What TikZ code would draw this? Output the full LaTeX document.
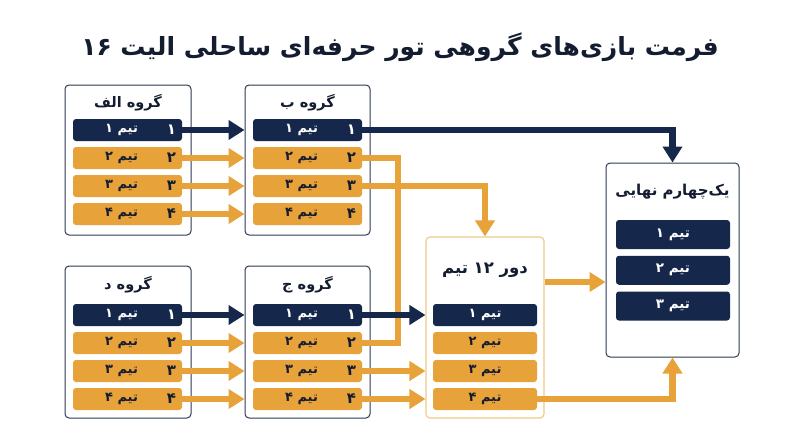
\documentclass[tikz,border=0pt]{standalone}
\usepackage{fontspec}
\usetikzlibrary{arrows.meta,calc}
\TeXXeTstate=1
\newfontfamily\fa[Script=Arabic]{DejaVu Sans}
\newcommand\rl[1]{{\fa\bfseries\beginR #1\endR}}
\definecolor{navy}{HTML}{15284B}
\definecolor{org}{HTML}{E8A23A}
\definecolor{orgline}{HTML}{F0C887}
\definecolor{ink}{HTML}{141C30}
\definecolor{gborder}{HTML}{2E3A52}
\tikzset{
  gbox/.style={draw=gborder, line width=1pt, rounded corners=4pt, fill=white},
  rbox/.style={draw=orgline, line width=1.1pt, rounded corners=4pt, fill=white},
  rowbox/.style={rounded corners=3pt, inner sep=0pt, minimum width=#1, minimum height=22pt},
  rowbox/.default=109pt,
  qrow/.style={fill=navy, rounded corners=3pt, inner sep=0pt, minimum width=114pt, minimum height=29pt},
  gtitle/.style={inner sep=0pt, text=ink, font=\fontsize{14.5}{18}\selectfont},
  lbl/.style={inner sep=0pt, font=\fontsize{13}{15}\selectfont},
  numlbl/.style={inner sep=0pt, font=\fontsize{15}{17}\selectfont},
  conn/.style={line width=6.5pt, -{Triangle[length=16pt,width=19pt]}},
  link/.style={line width=6.5pt},
}
\begin{document}
\begin{tikzpicture}[x=1pt,y=-1pt]
\useasboundingbox (0,0) rectangle (800,447);
\fill[white] (0,0) rectangle (800,447);
% title
\node[inner sep=0pt, text=ink, font=\fontsize{25}{30}\selectfont] (title) at (400,47)
  {\rl{فرمت بازی‌های گروهی تور حرفه‌ای ساحلی الیت \beginL۱۶\endL}};

% group boxes
\node[gbox, minimum width=126pt, minimum height=150pt] (GA) at (128,160) {};
\node[gbox, minimum width=125pt, minimum height=150pt] (GB) at (307.5,160) {};
\node[gbox, minimum width=126pt, minimum height=152pt] (GD) at (128,342) {};
\node[gbox, minimum width=125pt, minimum height=152pt] (GC) at (307.5,342) {};
\node[rbox, minimum width=118pt, minimum height=181pt] (GR) at (485,327.5) {};
\node[gbox, minimum width=133pt, minimum height=194pt] (GQ) at (672.5,260) {};

\node[gtitle] (TA) at (128,103) {\rl{گروه الف}};
\node[gtitle] (TB) at (307.5,103) {\rl{گروه ب}};
\node[gtitle] (TD) at (128,285) {\rl{گروه د}};
\node[gtitle] (TC) at (307.5,285) {\rl{گروه ج}};
\node[gtitle, font=\fontsize{16.5}{20}\selectfont] (TR) at (485,270) {\rl{دور \beginL۱۲\endL{} تیم}};
\node[gtitle, font=\fontsize{15}{18}\selectfont] (TQ) at (672.5,192) {\rl{یک‌چهارم نهایی}};

% group rows
\foreach \g/\x/\y in {A/127.5/130, B/307.5/130, D/127.5/315, C/307.5/315}{
  \foreach \i/\d/\fc/\tc in {1/۱/navy/white, 2/۲/org/ink, 3/۳/org/ink, 4/۴/org/ink}{
    \node[rowbox, fill=\fc] (\g\i) at (\x,\y+28*\i-28) {};
    \node[lbl, text=\tc] (\g\i t) at ($(\g\i.center)+(-6,0)$) {\rl{تیم \d}};
    \node[numlbl, text=\tc, anchor=east] (\g\i n) at ($(\g\i.east)+(-6,0)$) {\rl{\d}};
  }
}
% round-of-12 rows
\foreach \i/\d/\fc/\tc in {1/۱/navy/white, 2/۲/org/ink, 3/۳/org/ink, 4/۴/org/ink}{
  \node[rowbox=104pt, fill=\fc] (R\i) at (485,315+28*\i-28) {};
  \node[lbl, text=\tc] (R\i t) at (R\i.center) {\rl{تیم \d}};
}
% quarter-final rows
\foreach \i/\d in {1/۱, 2/۲, 3/۳}{
  \node[qrow] (Q\i) at (673,234.5+35.75*\i-35.75) {};
  \node[lbl, text=white, font=\fontsize{13.5}{16}\selectfont] (Q\i t) at (Q\i.center) {\rl{تیم \d}};
}

\coordinate (xmid) at (398,0);
\coordinate (rq) at (0,282);

% orange connectors
\foreach \i in {2,3,4}{
  \draw[conn, org] (A\i.east) -- (A\i.east -| GB.west);
  \draw[conn, org] (D\i.east) -- (D\i.east -| GC.west);
}
\draw[link, org] (B2.east) -- (B2.east -| xmid) -- (C2.east -| xmid) -- (C2.east);
\draw[conn, org] (B3.east) -| (GR.north);
\draw[conn, org] (C3.east) -- (C3.east -| GR.west);
\draw[conn, org] (C4.east) -- (C4.east -| GR.west);
\draw[conn, org] (rq -| GR.east) -- (rq -| GQ.west);
\draw[conn, org] (R4.east) -| (GQ.south);
% navy connectors
\draw[conn, navy] (A1.east) -- (A1.east -| GB.west);
\draw[conn, navy] (D1.east) -- (D1.east -| GC.west);
\draw[conn, navy] (C1.east) -- (C1.east -| GR.west);
\draw[conn, navy] (B1.east) -| (GQ.north);
\end{tikzpicture}
\end{document}
